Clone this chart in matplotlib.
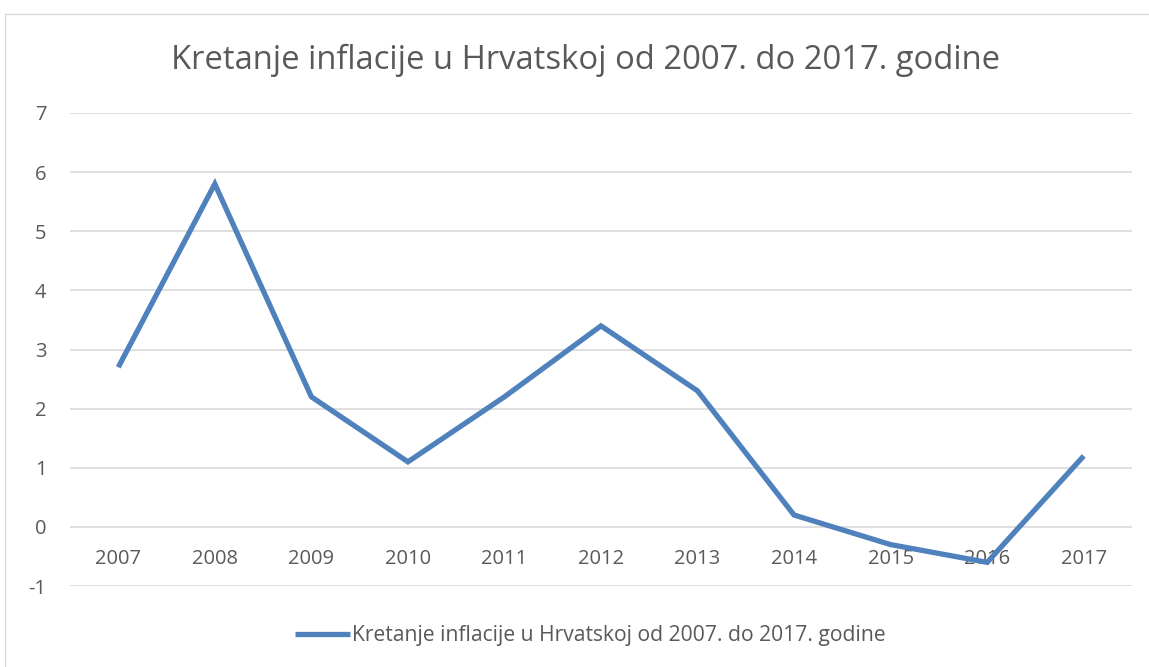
import matplotlib
matplotlib.use("Agg")
import matplotlib.pyplot as plt
from matplotlib.patches import Rectangle

years = ["2007", "2008", "2009", "2010", "2011", "2012", "2013", "2014", "2015", "2016", "2017"]
inflation = [2.7, 5.8, 2.2, 1.1, 2.2, 3.4, 2.3, 0.2, -0.3, -0.6, 1.2]
series_name = "Kretanje inflacije u Hrvatskoj od 2007. do 2017. godine"
title = "Kretanje inflacije u Hrvatskoj od 2007. do 2017. godine"
yticks = [-1, 0, 1, 2, 3, 4, 5, 6, 7]

TXT = "#595959"
plt.rcParams["font.family"] = ["Open Sans", "DejaVu Sans"]

fig = plt.figure(figsize=(11.49, 6.67), dpi=100)
fig.patch.set_facecolor("white")
fig.patches.append(Rectangle((5 / 1149, -0.1), 1.2, 1 - 14 / 667 + 0.1, transform=fig.transFigure,
                             fill=False, edgecolor="#D9D9D9", linewidth=1))

ax = fig.add_axes([70 / 1149, 1 - 586 / 667, (1132 - 70) / 1149, (586 - 113) / 667])
x = list(range(len(years)))
ax.plot(x, inflation, color="#4F81BD", linewidth=3.8, solid_joinstyle="miter",
        solid_capstyle="butt", label=series_name, zorder=3)

ax.set_xlim(-0.5, len(years) - 0.5)
ax.set_ylim(-1, 7)
ax.set_yticks(yticks)
ax.set_yticklabels([str(v) for v in yticks])
ax.set_xticks(x)
ax.set_xticklabels(years)
ax.grid(axis="y", color="#D9D9D9", linewidth=1.2)
ax.set_axisbelow(True)
for s in ["top", "right", "left"]:
    ax.spines[s].set_visible(False)
ax.spines["bottom"].set_position(("data", 0))
ax.spines["bottom"].set_visible(False)
ax.tick_params(axis="x", length=0, pad=16, labelsize=14.5, labelcolor=TXT)
ax.tick_params(axis="y", length=0, pad=17, labelsize=14.5, labelcolor=TXT)

fig.text(586 / 1149, 1 - 60 / 667, title, ha="center", va="center", fontsize=23.6, color=TXT)
fig.legend(loc="center", bbox_to_anchor=(0.5135, 1 - 636 / 667), frameon=False,
           fontsize=15.2, labelcolor=TXT, handlelength=2.6, handletextpad=0.1)

fig.savefig("out.png", dpi=100)
